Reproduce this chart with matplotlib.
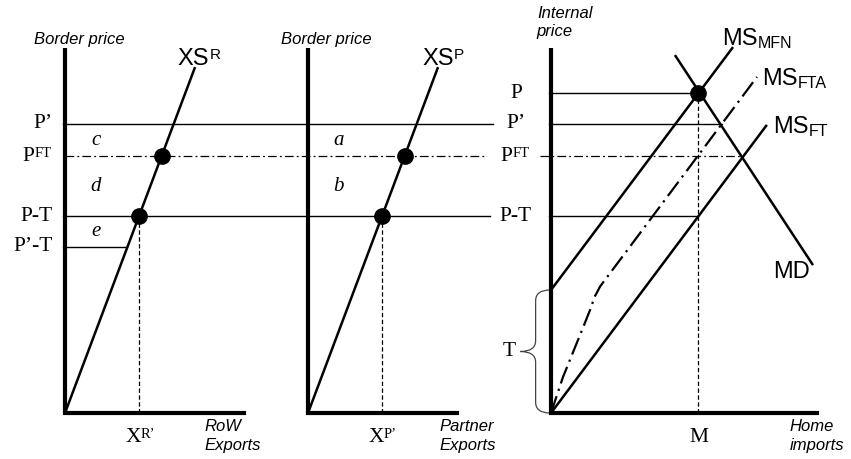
import numpy as np
import matplotlib.pyplot as plt
from matplotlib.path import Path
from matplotlib.patches import PathPatch

# price levels (one vertical scale shared by the three panels)
T = 4.0
P = 10.4
P_prime = 9.4
P_FT = 8.35
P_T = P - T
P_prime_T = P_prime - T

# export supply of RoW and of the partner (same curve)
xs_q = [0, 4.23]
xs_p = [0, 11.25]

# home import market
ms_mfn_q = [0, 5.92]
ms_mfn_p = [T, 11.9]
ms_ft_q = [0, 7.02]
ms_ft_p = [0, 9.37]
ms_fta_q = [0, 0.39, 1.01, 1.27, 1.42, 1.6, 6.70]
ms_fta_p = [0, 1.17, 2.70, 3.35, 3.78, 4.12, 10.93]
md_q = [4.03, 8.52]
md_p = [11.64, 4.81]

# quantities
X_R = np.interp(P_T, xs_p, xs_q)
X_FT = np.interp(P_FT, xs_p, xs_q)
X_prime_T = np.interp(P_prime_T, xs_p, xs_q)
M = np.interp(P, ms_mfn_p, ms_mfn_q)
q_fta_prime = np.interp(P_prime, ms_fta_p, ms_fta_q)
q_ft_eq = np.interp(P_FT, ms_ft_p, ms_ft_q)

SERIF = 'Liberation Serif'
SANS = 'Liberation Sans'

# layout (pixels)
W, H = 851, 459
PPU = 30.75
lefts = [65, 308, 551]
widths = [243, 243, 300]
y0_px, top_px = 413, 48
axis_len = [5.82, 4.85, 8.65]

fig = plt.figure(figsize=(W / 100, H / 100), dpi=100)
axes = []
for l, w in zip(lefts, widths):
    ax = fig.add_axes([l / W, (H - y0_px) / H, w / W, (y0_px - top_px) / H])
    ax.set_xlim(0, w / PPU)
    ax.set_ylim(0, (y0_px - top_px) / PPU)
    ax.axis('off')
    axes.append(ax)
ax1, ax2, ax3 = axes

ytop = (y0_px - top_px) / PPU
for ax, L in zip(axes, axis_len):
    ax.plot([0, 0], [0, ytop], color='black', lw=3, solid_capstyle='butt', clip_on=False)
    ax.plot([0, L], [0, 0], color='black', lw=3, solid_capstyle='projecting', clip_on=False)

thin = dict(color='black', lw=1.0, clip_on=False)
dashdot = dict(color='black', lw=0.9, ls=(0, (7, 2.5, 1.5, 2.5)), clip_on=False)
vdash = dict(color='black', lw=0.9, ls=(0, (3.5, 2)), clip_on=False)
curve = dict(color='black', lw=1.8, clip_on=False, solid_capstyle='butt')

# price lines running across the two left panels
ax1.plot([-0.07, 13.92], [P_prime, P_prime], **thin)
ax1.plot([0, 13.72], [P_FT, P_FT], **dashdot)
ax1.plot([-0.07, 13.82], [P_T, P_T], **thin)
ax1.plot([-0.07, X_prime_T], [P_prime_T, P_prime_T], **thin)

for ax, name in [(ax1, 'R'), (ax2, 'P')]:
    ax.plot(xs_q, xs_p, **curve)
    ax.plot([X_R, X_R], [0, P_T], **vdash)
    ax.plot([X_R, X_FT], [P_T, P_FT], 'o', color='black', ms=11, clip_on=False)

# home market lines
ax3.plot([-0.07, M], [P, P], **thin)
ax3.plot([-0.07, q_fta_prime], [P_prime, P_prime], **thin)
ax3.plot([-0.36, q_ft_eq], [P_FT, P_FT], **dashdot)
ax3.plot([-0.07, M], [P_T, P_T], **thin)
ax3.plot([M, M], [0, P], **vdash)
ax3.plot(ms_mfn_q, ms_mfn_p, **curve)
ax3.plot(ms_ft_q, ms_ft_p, **curve)
ax3.plot(md_q, md_p, **curve)
ax3.plot(ms_fta_q, ms_fta_p, color='black', lw=1.6, ls=(0, (8, 2.5, 1, 2.5)), clip_on=False)
ax3.plot([M], [P], 'o', color='black', ms=11, clip_on=False)

# brace for T
xe, xs_, xt, r = -0.03, -0.5, -1.0, 0.35
ym = T / 2
verts = [(xe, T), (xs_, T), (xs_, T - r), (xs_, ym + r), (xs_, ym), (xt, ym),
         (xs_, ym), (xs_, ym - r), (xs_, r), (xs_, 0), (xe, 0)]
codes = [Path.MOVETO, Path.CURVE3, Path.CURVE3, Path.LINETO, Path.CURVE3, Path.CURVE3,
         Path.CURVE3, Path.CURVE3, Path.LINETO, Path.CURVE3, Path.CURVE3]
ax3.add_patch(PathPatch(Path(verts, codes), fill=False, ec='#444444', lw=0.9, clip_on=False))


def label(ax, x, y, base, script=None, sub=False, fam=SERIF, size=15.5, ssize=10.5, **kw):
    t = ax.text(x, y, base, family=fam, fontsize=size, **kw)
    if script:
        if sub:
            ax.annotate(script, xy=(1, 0), xycoords=t, xytext=(0.2, 1.5), textcoords='offset points',
                        va='baseline', ha='left', family=fam, fontsize=ssize)
        else:
            ax.annotate(script, xy=(1, 1), xycoords=t, xytext=(0.2, 0), textcoords='offset points',
                        va='top', ha='left', family=fam, fontsize=ssize)
    return t


# left price labels
for y, base, sup in [(P_prime, 'P\u2019', None), (P_FT, 'P', 'FT'),
                     (P_T, 'P-T', None), (P_prime_T, 'P\u2019-T', None)]:
    label(ax1, -0.39 - (0.6 if sup else 0), y, base, sup, ha='right', va='center')

# labels to the left of the home panel
for y, base, sup in [(P, 'P', None), (P_prime, 'P\u2019', None), (P_FT, 'P', 'FT'), (P_T, 'P-T', None)]:
    label(ax3, -1.14 - (0.3 if sup else 0), y, base, sup, ha='center', va='center')
label(ax3, -1.37, T / 2, 'T', ha='center', va='center')

# area letters
for ax, letters in [(ax1, ['c', 'd', 'e']), (ax2, ['a', 'b'])]:
    ys = [(P_prime + P_FT) / 2, (P_FT + P_T) / 2, (P_T + P_prime_T) / 2]
    for ch, y in zip(letters, ys):
        ax.text(1.0, y, ch, family=SERIF, style='italic', fontsize=15, ha='center', va='center')

# panel titles and curve names
for ax, x0, name, xl in [(ax1, -1.01, 'R', 3.67), (ax2, -0.88, 'P', 3.72)]:
    ax.text(x0, 12.0, 'Border price', family=SANS, style='italic', fontsize=12, va='baseline')
    label(ax, xl, 11.32, 'XS', name, fam=SANS, size=17, ssize=11, va='baseline')
    label(ax, X_R - 0.45, -0.94, 'X', name + '\u2019', size=15.5, ssize=10.5, va='baseline')

two_line = dict(family=SANS, style='italic', fontsize=12, va='top', linespacing=1.3)
ax1.text(4.55, -0.2, 'RoW\nExports', **two_line)
ax2.text(4.29, -0.2, 'Partner\nExports', **two_line)
ax3.text(-0.46, 13.25, 'Internal\nprice', **two_line)
ax3.text(7.77, -0.2, 'Home\nimports', **two_line)
ax3.text(M, -0.94, 'M', family=SERIF, fontsize=15.5, ha='center', va='baseline')

label(ax3, 5.56, 11.97, 'MS', 'MFN', sub=True, fam=SANS, size=17, ssize=11.5, va='baseline')
label(ax3, 6.86, 10.67, 'MS', 'FTA', sub=True, fam=SANS, size=17, ssize=11.5, va='baseline')
label(ax3, 7.22, 9.11, 'MS', 'FT', sub=True, fam=SANS, size=17, ssize=11.5, va='baseline')
ax3.text(7.22, 4.39, 'MD', family=SANS, fontsize=17, va='baseline')

fig.savefig('out.png', dpi=100)
